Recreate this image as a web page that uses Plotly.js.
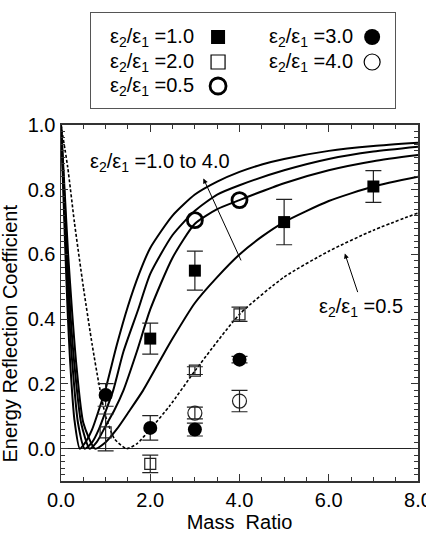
<!DOCTYPE html>
<html><head><meta charset="utf-8">
<script src="https://cdn.plot.ly/plotly-3.0.1.min.js"></script>
<style>body{margin:0;background:#fff}</style>
</head><body><div id="chart" style="width:426px;height:536px"></div>
<script>
// Theory curves
const curve4_x = [0,0.05,0.1,0.15,0.2,0.3,0.42,0.55,0.7,0.85,1.0,1.25,1.5,1.75,2.0,2.5,3.0,3.5,4.0,4.5,5.0,6.0,7.0,8.0];
const curve4_y = [1,0.8,0.6,0.42,0.28,0.09,0,0.02,0.06,0.12,0.185,0.32,0.44,0.54,0.62,0.72,0.785,0.825,0.855,0.878,0.895,0.92,0.935,0.945];
const curve3_x = [0,0.06,0.12,0.18,0.25,0.38,0.53,0.7,0.85,1.0,1.17,1.4,1.73,2.0,2.5,3.0,3.5,4.0,5.0,6.0,7.0,8.0];
const curve3_y = [1,0.8,0.6,0.42,0.27,0.08,0,0.02,0.06,0.115,0.18,0.3,0.43,0.54,0.66,0.735,0.785,0.814,0.86,0.895,0.918,0.933];
const curve2_x = [0,0.07,0.14,0.21,0.3,0.45,0.64,0.8,1.0,1.2,1.4,1.7,2.0,2.5,3.0,3.5,4.0,5.0,6.0,7.0,8.0];
const curve2_y = [1,0.8,0.6,0.42,0.26,0.08,0,0.02,0.07,0.12,0.18,0.3,0.43,0.59,0.695,0.74,0.768,0.82,0.86,0.888,0.907];
const curve1_x = [0,0.08,0.16,0.25,0.35,0.5,0.76,1.0,1.25,1.5,1.84,2.25,2.5,3.0,3.5,4.0,4.5,5.0,6.0,7.0,8.0];
const curve1_y = [1,0.8,0.6,0.42,0.25,0.08,0,0.02,0.06,0.11,0.18,0.28,0.34,0.45,0.53,0.6,0.655,0.7,0.765,0.81,0.84];
const curve05_x = [0,0.15,0.3,0.5,0.7,0.85,1.0,1.2,1.47,1.7,2.0,2.44,3.0,4.0,5.0,6.0,7.0,8.0];
const curve05_y = [1,0.87,0.7,0.5,0.32,0.2,0.1,0.03,0,0.015,0.06,0.133,0.24,0.415,0.53,0.61,0.675,0.728];

// Measurements
const e10_x = [2,3,5,7];
const e10_y = [0.34,0.55,0.70,0.81];
const e10_err = [0.048,0.06,0.07,0.049];
const e20_x = [1,2,3,4];
const e20_y = [0.05,-0.047,0.241,0.415];
const e20_err = [0.057,0.027,0.012,0.022];
const e30_x = [1,2,3,4];
const e30_y = [0.166,0.064,0.059,0.275];
const e30_err = [0.035,0.038,0.02,0.01];
const e40_x = [3,4];
const e40_y = [0.11,0.147];
const e40_err = [0.018,0.033];
const e05_x = [3,4];
const e05_y = [0.706,0.768];

const xTicks = [0,2,4,6,8];
const xTickText = ['0.0','2.0','4.0','6.0','8.0'];
const legendLabels = ['=1.0','=2.0','=0.5','=3.0','=4.0'];

const INK = '#000';
const F = 'Liberation Sans, Arial, sans-serif';
const FS = 20;

function line(x,y,dash){
  return {x:x,y:y,mode:'lines',line:{color:INK,width:dash?1.6:2,dash:dash?'3px,2px':'solid',shape:'spline',smoothing:0.6},showlegend:false,hoverinfo:'skip'};
}
function errb(arr){return {type:'data',array:arr,visible:true,color:'#222',thickness:1.2,width:8};}

const traces = [
  line(curve4_x,curve4_y,false),
  line(curve3_x,curve3_y,false),
  line(curve2_x,curve2_y,false),
  line(curve1_x,curve1_y,false),
  line(curve05_x,curve05_y,true),
  {x:e10_x,y:e10_y,mode:'markers',error_y:errb(e10_err),marker:{symbol:'square',size:12,color:INK,opacity:1,line:{width:0}},showlegend:false},
  {x:e20_x,y:e20_y,mode:'markers',error_y:errb(e20_err),marker:{symbol:'square-open',size:11,color:'#222',line:{width:1.2}},showlegend:false},
  {x:e30_x,y:e30_y,mode:'markers',error_y:errb(e30_err),marker:{symbol:'circle',size:14,color:INK,opacity:1,line:{width:0}},showlegend:false},
  {x:e40_x,y:e40_y,mode:'markers',error_y:errb(e40_err),marker:{symbol:'circle-open',size:14,color:'#222',line:{width:1.2}},showlegend:false},
  {x:e05_x,y:e05_y,mode:'markers',marker:{symbol:'circle-open',size:15,color:INK,line:{width:2.8}},showlegend:false},
  // legend markers
  {x:[127,127,127,281,281],y:[24,49,73,24,49],xaxis:'x2',yaxis:'y2',mode:'markers',showlegend:false,hoverinfo:'skip',
   marker:{symbol:['square','square-open','circle-open','circle','circle-open'],size:[14,14,16,16,16],color:INK,opacity:1,line:{width:[0,1.2,2.8,0,1.2],color:INK}}}
];

const annotations = [];
const lx=[17,17,17,176,176], ly=[24,49,73,24,49];
for(let i=0;i<5;i++){
  annotations.push({xref:'x2',yref:'y2',x:lx[i],y:ly[i],xanchor:'left',yanchor:'middle',showarrow:false,
    text:'ε<sub>2</sub>/ε<sub>1</sub> '+legendLabels[i],font:{family:F,size:FS,color:INK}});
}
annotations.push({x:0.6,y:0.885,xref:'x',yref:'y',xanchor:'left',showarrow:false,text:'ε<sub>2</sub>/ε<sub>1</sub> =1.0 to 4.0',font:{family:F,size:FS,color:INK}});
annotations.push({x:3.19,y:0.835,ax:4.05,ay:0.577,axref:'x',ayref:'y',xref:'x',yref:'y',showarrow:true,arrowhead:2,arrowsize:1,arrowwidth:1,arrowcolor:INK,text:''});
annotations.push({x:6.72,y:0.435,xref:'x',yref:'y',showarrow:false,text:'ε<sub>2</sub>/ε<sub>1</sub> =0.5',font:{family:F,size:FS,color:INK}});
annotations.push({x:6.36,y:0.603,ax:6.66,ay:0.479,axref:'x',ayref:'y',xref:'x',yref:'y',showarrow:true,arrowhead:2,arrowsize:1,arrowwidth:1,arrowcolor:INK,text:''});
// y-axis title
annotations.push({xref:'paper',yref:'paper',x:-0.143,y:0.315,xanchor:'center',yanchor:'middle',textangle:-90,showarrow:false,
  text:'Energy Reflection Coefficient',font:{family:F,size:FS,color:INK}});

const layout = {
  width:426,height:536,
  margin:{l:61,r:8,t:13,b:55},
  paper_bgcolor:'#fff',plot_bgcolor:'#fff',
  font:{family:F,size:FS,color:INK},
  xaxis:{domain:[0,1],range:[0,8],tickmode:'array',tickvals:xTicks,ticktext:xTickText,ticks:'inside',ticklen:7,tickwidth:1,tickcolor:'#333',
    ticklabeloverflow:'allow',
    minor:{dtick:0.5,ticks:'inside',ticklen:4,tickcolor:'#333'},
    showline:true,mirror:'ticks',linecolor:'#333',linewidth:1.5,showgrid:false,zeroline:false,
    tickfont:{family:F,size:FS,color:INK},title:{text:'Mass  Ratio',font:{family:F,size:FS,color:INK},standoff:2}},
  yaxis:{domain:[0,0.7607],range:[-0.1,1.0],dtick:0.2,tick0:0,tickformat:'.1f',ticks:'inside',ticklen:7,tickwidth:1,tickcolor:'#333',
    minor:{dtick:0.02,ticks:'inside',ticklen:4,tickcolor:'#333'},
    showline:true,mirror:'ticks',linecolor:'#333',linewidth:1.5,showgrid:false,zeroline:true,zerolinecolor:'#222',zerolinewidth:1.2,
    tickfont:{family:F,size:FS,color:INK}},
  xaxis2:{domain:[0.084,0.936],range:[0,304],anchor:'y2',showline:true,mirror:true,linecolor:'#555',linewidth:1.2,showticklabels:false,ticks:'',showgrid:false,zeroline:false,fixedrange:true},
  yaxis2:{domain:[0.797,1],range:[95,0],anchor:'x2',showline:true,mirror:true,linecolor:'#555',linewidth:1.2,showticklabels:false,ticks:'',showgrid:false,zeroline:false,fixedrange:true},
  annotations:annotations,
  showlegend:false
};
Plotly.newPlot('chart',traces,layout,{displayModeBar:false,staticPlot:true});
</script></body></html>
